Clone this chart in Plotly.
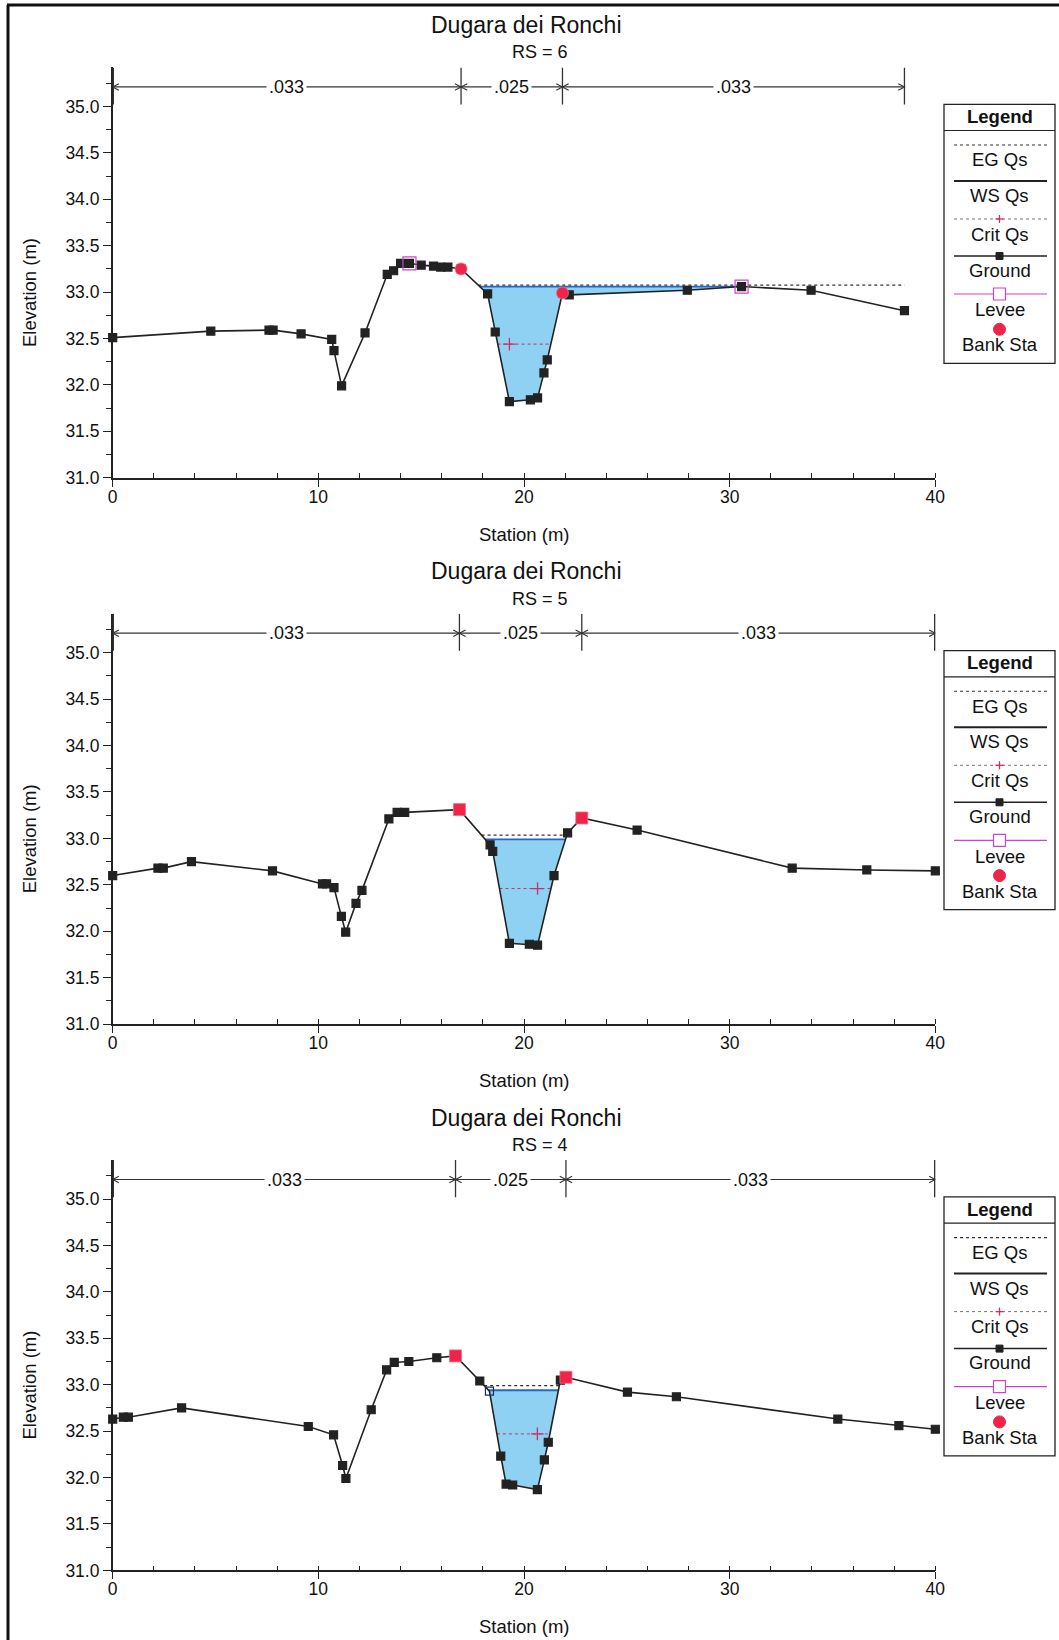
import numpy as np
import plotly.graph_objects as go

W, H = 1059, 1640

# ---------------- data ----------------
TITLE = "Dugara dei Ronchi"
RS_LABELS = ["RS = 6", "RS = 5", "RS = 4"]
N_VALUES = [".033", ".025", ".033"]
LEGEND_ITEMS = ["EG Qs", "WS Qs", "Crit Qs", "Ground", "Levee", "Bank Sta"]

st1 = [0, 4.77, 7.6, 7.8, 9.16, 10.65, 10.76, 11.13, 12.27, 13.35, 13.66, 14.0, 14.43, 15.0,
       15.6, 15.95, 16.3, 16.94, 18.23, 18.6, 19.29, 20.31, 20.66, 20.97, 21.13, 21.87, 22.2,
       27.94, 30.58, 33.96, 38.5]
el1 = [32.51, 32.58, 32.59, 32.59, 32.55, 32.49, 32.37, 31.99, 32.56, 33.19, 33.23, 33.31, 33.31, 33.29,
       33.28, 33.27, 33.27, 33.25, 32.98, 32.57, 31.82, 31.84, 31.86, 32.13, 32.27, 32.99, 32.97,
       33.02, 33.06, 33.02, 32.80]

st2 = [0, 2.2, 2.46, 3.83, 7.77, 10.2, 10.4, 10.76, 11.12, 11.33, 11.83, 12.12, 13.43, 13.83, 14.2,
       16.86, 18.35, 18.48, 19.29, 20.26, 20.66, 21.46, 22.12, 22.81, 25.5, 33.04, 36.67, 40.0]
el2 = [32.60, 32.68, 32.68, 32.75, 32.65, 32.51, 32.51, 32.47, 32.16, 31.99, 32.30, 32.44, 33.21, 33.28, 33.28,
       33.31, 32.93, 32.86, 31.87, 31.86, 31.85, 32.60, 33.06, 33.22, 33.09, 32.68, 32.66, 32.65]

st3 = [0, 0.52, 0.76, 3.35, 9.51, 10.74, 11.18, 11.34, 12.57, 13.32, 13.69, 14.4, 15.76, 16.67, 17.85,
       18.32, 18.87, 19.13, 19.45, 20.65, 20.99, 21.18, 21.77, 22.04, 25.03, 27.41, 35.26, 38.23, 40.0]
el3 = [32.63, 32.65, 32.65, 32.75, 32.55, 32.46, 32.13, 31.99, 32.73, 33.16, 33.24, 33.25, 33.29, 33.31, 33.04,
       32.93, 32.23, 31.93, 31.92, 31.87, 32.19, 32.38, 33.05, 33.08, 32.92, 32.87, 32.63, 32.56, 32.52]

ws_elev = [33.06, 32.99, 32.94]
eg_elev = [33.075, 33.035, 32.99]
crit_elev = [32.44, 32.46, 32.47]
crit_mark_st = [19.29, 20.66, 20.65]

bank1 = [16.94, 21.87]
bank2 = [16.86, 22.81]
bank3 = [16.67, 22.04]

levee_st1 = [14.43, 30.58]
levee_st2 = []
levee_st3 = []

ineff_st1 = []
ineff_st2 = []
ineff_st3 = [18.32]

# ---------------- style / geometry ----------------
FONT = "Liberation Sans, Arial, sans-serif"
X0_PX, X40_PX = 112.7, 935.3
Y31_PX, YTOP_PX = 477.8, 67.4
PANEL_DY = 546.3
XRANGE = [0, 40]
YTOP = 35.42
N_Y, N_TOP, N_BOT = 35.21, 35.42, 35.02

WATER = "#8fd1f3"
WS_COL = "#2a64c8"
CRIT_COL = "#c8306a"
LEVEE_COL = "#cc44cc"
BANK_COL = "#ee2448"
GROUND_COL = "#222222"


def px(x):
    return x / W


def py(y):
    return 1 - y / H


def interp_level(s0, e0, s1, e1, level):
    if e1 == e0:
        return s1
    return s0 + (level - e0) * (s1 - s0) / (e1 - e0)


def extent(st, el, level):
    n = len(st)
    i0 = int(np.argmin(el))
    i = i0
    while i > 0 and el[i - 1] < level:
        i -= 1
    left = interp_level(st[i - 1], el[i - 1], st[i], el[i], level) if i > 0 else st[0]
    j = i0
    while j < n - 1 and el[j + 1] < level:
        j += 1
    right = interp_level(st[j], el[j], st[j + 1], el[j + 1], level) if j < n - 1 else st[-1]
    return left, right, i, j


panels = [
    dict(st=st1, el=el1, bank=bank1, levee=levee_st1, ineff=ineff_st1, bank_sym="circle"),
    dict(st=st2, el=el2, bank=bank2, levee=levee_st2, ineff=ineff_st2, bank_sym="square"),
    dict(st=st3, el=el3, bank=bank3, levee=levee_st3, ineff=ineff_st3, bank_sym="square"),
]

fig = go.Figure()
shapes = []
annotations = []

for p, P in enumerate(panels):
    sfx = "" if p == 0 else str(p + 1)
    xr, yr = "x" + sfx, "y" + sfx
    off = p * PANEL_DY
    st = np.array(P["st"], dtype=float)
    el = np.array(P["el"], dtype=float)

    # water fill
    wl, wr, wi, wj = extent(st, el, ws_elev[p])
    poly_x = [wl] + list(st[wi:wj + 1]) + [wr]
    poly_y = [ws_elev[p]] + list(el[wi:wj + 1]) + [ws_elev[p]]
    fig.add_trace(go.Scatter(x=poly_x, y=poly_y, fill="toself", fillcolor=WATER, mode="lines",
                             line=dict(width=0), xaxis=xr, yaxis=yr, showlegend=False, hoverinfo="skip"))
    # EG
    el_, er_, _, _ = extent(st, el, eg_elev[p])
    fig.add_trace(go.Scatter(x=[el_, er_], y=[eg_elev[p]] * 2, mode="lines",
                             line=dict(color="#333333", width=1.2, dash="dot"),
                             xaxis=xr, yaxis=yr, showlegend=False))
    # WS
    fig.add_trace(go.Scatter(x=[wl, wr], y=[ws_elev[p]] * 2, mode="lines",
                             line=dict(color=WS_COL, width=1.8),
                             xaxis=xr, yaxis=yr, showlegend=False))
    # Crit
    cl, cr, _, _ = extent(st, el, crit_elev[p])
    fig.add_trace(go.Scatter(x=[cl, cr], y=[crit_elev[p]] * 2, mode="lines",
                             line=dict(color=CRIT_COL, width=1, dash="dot"),
                             xaxis=xr, yaxis=yr, showlegend=False))
    fig.add_trace(go.Scatter(x=[crit_mark_st[p]], y=[crit_elev[p]], mode="markers",
                             marker=dict(symbol="cross-thin", size=9, line=dict(color=CRIT_COL, width=1.3)),
                             xaxis=xr, yaxis=yr, showlegend=False))
    # Ground
    syms = ["square-open" if s in P["ineff"] else "square" for s in P["st"]]
    cols = ["#1a2a6a" if s in P["ineff"] else GROUND_COL for s in P["st"]]
    fig.add_trace(go.Scatter(x=st, y=el, mode="lines+markers",
                             line=dict(color=GROUND_COL, width=1.6),
                             marker=dict(symbol=syms, size=8, color=cols, line=dict(width=1.2, color=cols)),
                             cliponaxis=False, xaxis=xr, yaxis=yr, showlegend=False))
    # Levee
    if P["levee"]:
        lev_el = [float(np.interp(s, st, el)) for s in P["levee"]]
        fig.add_trace(go.Scatter(x=P["levee"], y=lev_el, mode="markers",
                                 marker=dict(symbol="square-open", size=13, color=LEVEE_COL,
                                             line=dict(width=1.2, color=LEVEE_COL)),
                                 cliponaxis=False, xaxis=xr, yaxis=yr, showlegend=False))
    # Bank stations
    bank_el = [float(np.interp(s, st, el)) for s in P["bank"]]
    fig.add_trace(go.Scatter(x=P["bank"], y=bank_el, mode="markers",
                             marker=dict(symbol=P["bank_sym"], size=12, color=BANK_COL,
                                         line=dict(width=0.8, color="#ff6680")),
                             cliponaxis=False, xaxis=xr, yaxis=yr, showlegend=False))

    # axes
    fig.layout["xaxis" + sfx] = dict(
        domain=[px(X0_PX), px(X40_PX)], anchor=yr, range=XRANGE, showline=True, linecolor="#222",
        linewidth=1.5, showgrid=False, zeroline=False, tick0=0, dtick=10, ticks="outside",
        ticklen=7, tickcolor="#222", tickfont=dict(family=FONT, size=17.5, color="#111"),
        ticklabelstandoff=-5,
        minor=dict(ticks="inside", dtick=2, ticklen=5, tickcolor="#222", showgrid=False),
        automargin=False, fixedrange=True)
    fig.layout["yaxis" + sfx] = dict(
        domain=[py(Y31_PX + off), py(YTOP_PX + off)], anchor=xr, range=[31, YTOP], showline=True,
        linecolor="#222", linewidth=1.5, showgrid=False, zeroline=False, tick0=31, dtick=0.5,
        tickformat=".1f", ticks="outside", ticklen=8, tickcolor="#222",
        tickfont=dict(family=FONT, size=17.5, color="#111"),
        minor=dict(ticks="outside", dtick=0.25, ticklen=4.5, tickcolor="#222", showgrid=False),
        automargin=False, fixedrange=True)

    # Manning's n segments
    bounds = [P["st"][0], P["bank"][0], P["bank"][1], P["st"][-1]]
    for b in bounds:
        # a line sitting on the edge of the plot area gets half clipped: double its width there
        w = 2.6 if b in XRANGE else 1.3
        shapes.append(dict(type="line", xref=xr, yref=yr, x0=b, x1=b, y0=N_BOT, y1=N_TOP,
                           line=dict(color="#333", width=w)))
    for k in range(3):
        a, b = bounds[k], bounds[k + 1]
        shapes.append(dict(type="line", xref=xr, yref=yr, x0=a, x1=b, y0=N_Y, y1=N_Y,
                           line=dict(color="#333", width=1.2)))
        dx, dy = 0.3, 0.035
        shapes.append(dict(type="path", xref=xr, yref=yr,
                           path=f"M {a+dx},{N_Y+dy} L {a},{N_Y} L {a+dx},{N_Y-dy}",
                           line=dict(color="#333", width=1.1)))
        shapes.append(dict(type="path", xref=xr, yref=yr,
                           path=f"M {b-dx},{N_Y+dy} L {b},{N_Y} L {b-dx},{N_Y-dy}",
                           line=dict(color="#333", width=1.1)))
        annotations.append(dict(xref=xr, yref=yr, x=(a + b) / 2, y=N_Y, text=N_VALUES[k],
                                showarrow=False, bgcolor="white", borderpad=2,
                                font=dict(family=FONT, size=18, color="#111")))

    # titles
    annotations.append(dict(xref="paper", yref="paper", x=px(526), y=py(25 + off), text=TITLE,
                            showarrow=False, xanchor="center", yanchor="middle",
                            font=dict(family=FONT, size=23, color="#111")))
    annotations.append(dict(xref="paper", yref="paper", x=px(539.5), y=py(52.3 + off), text=RS_LABELS[p],
                            showarrow=False, xanchor="center", yanchor="middle",
                            font=dict(family=FONT, size=18, color="#111")))
    annotations.append(dict(xref="paper", yref="paper", x=px(524), y=py(534 + off), text="Station (m)",
                            showarrow=False, xanchor="center", yanchor="middle",
                            font=dict(family=FONT, size=18.5, color="#111")))
    annotations.append(dict(xref="paper", yref="paper", x=px(29.3), y=py(292.7 + off), text="Elevation (m)",
                            showarrow=False, xanchor="center", yanchor="middle", textangle=-90,
                            font=dict(family=FONT, size=18.5, color="#111")))

    # legend box (drawn by hand)
    L, R, T, B = 944, 1055, 104.3 + off, 363.3 + off
    shapes.append(dict(type="rect", xref="paper", yref="paper", x0=px(L), x1=px(R), y0=py(B), y1=py(T),
                       line=dict(color="#222", width=1.3), fillcolor="rgba(0,0,0,0)"))
    shapes.append(dict(type="line", xref="paper", yref="paper", x0=px(L), x1=px(R),
                       y0=py(130.5 + off), y1=py(130.5 + off), line=dict(color="#222", width=1.2)))
    annotations.append(dict(xref="paper", yref="paper", x=px((L + R) / 2), y=py(116.5 + off),
                            text="<b>Legend</b>", showarrow=False, xanchor="center", yanchor="middle",
                            font=dict(family=FONT, size=18.5, color="#111")))
    cx = (L + R) / 2
    lx0, lx1 = 954, 1047
    line_y = [145, 181, 219, 256, 294, 329.3]
    text_y = [160, 195.7, 234.3, 270, 310, 345]
    line_styles = [
        dict(color="#333", width=1.1, dash="dot"),
        dict(color="#222", width=2),
        dict(color="#777", width=1, dash="dot"),
        dict(color="#222", width=1.5),
        dict(color=LEVEE_COL, width=1.2),
        None,
    ]
    for k, name in enumerate(LEGEND_ITEMS):
        yy = line_y[k] + off
        if line_styles[k] is not None:
            shapes.append(dict(type="line", xref="paper", yref="paper", x0=px(lx0), x1=px(lx1),
                               y0=py(yy), y1=py(yy), line=line_styles[k]))
        annotations.append(dict(xref="paper", yref="paper", x=px(cx), y=py(text_y[k] + off), text=name,
                                showarrow=False, xanchor="center", yanchor="middle",
                                font=dict(family=FONT, size=18.5, color="#111")))
    # legend glyphs
    yy = line_y[2] + off
    shapes.append(dict(type="line", xref="paper", yref="paper", x0=px(cx - 4), x1=px(cx + 4),
                       y0=py(yy), y1=py(yy), line=dict(color=CRIT_COL, width=1.3)))
    shapes.append(dict(type="line", xref="paper", yref="paper", x0=px(cx), x1=px(cx),
                       y0=py(yy - 4), y1=py(yy + 4), line=dict(color=CRIT_COL, width=1.3)))
    yy = line_y[3] + off
    shapes.append(dict(type="rect", xref="paper", yref="paper", x0=px(cx - 3.5), x1=px(cx + 3.5),
                       y0=py(yy + 3.5), y1=py(yy - 3.5), line=dict(color=GROUND_COL, width=1),
                       fillcolor=GROUND_COL))
    yy = line_y[4] + off
    shapes.append(dict(type="rect", xref="paper", yref="paper", x0=px(cx - 6), x1=px(cx + 6),
                       y0=py(yy + 6), y1=py(yy - 6), line=dict(color=LEVEE_COL, width=1.2),
                       fillcolor="white"))
    yy = line_y[5] + off
    shapes.append(dict(type="circle", xref="paper", yref="paper", x0=px(cx - 6), x1=px(cx + 6),
                       y0=py(yy + 6), y1=py(yy - 6), line=dict(color=BANK_COL, width=1),
                       fillcolor=BANK_COL))

# outer frame (top and left edges)
shapes.append(dict(type="line", xref="paper", yref="paper", x0=px(7), x1=1, y0=py(5), y1=py(5),
                   line=dict(color="#111", width=3)))
shapes.append(dict(type="line", xref="paper", yref="paper", x0=px(8), x1=px(8), y0=0, y1=py(5),
                   line=dict(color="#111", width=3)))

fig.update_layout(
    template="none",
    width=W, height=H, autosize=False,
    margin=dict(l=0, r=0, t=0, b=0, pad=0, autoexpand=False),
    paper_bgcolor="white", plot_bgcolor="white",
    showlegend=False, shapes=shapes, annotations=annotations,
    font=dict(family=FONT, color="#111"),
)

fig.write_html("out.html",
               config={"displayModeBar": False},
               post_script="document.body.style.margin='0px';document.body.style.overflow='hidden';")
